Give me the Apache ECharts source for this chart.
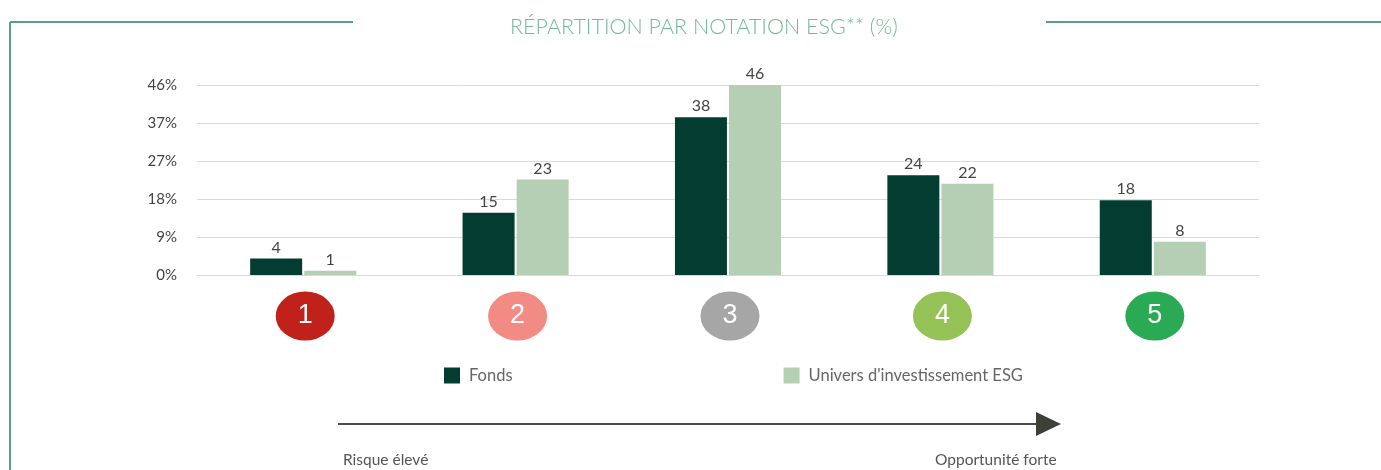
<!DOCTYPE html>
<html><head><meta charset="utf-8">
<script src="https://cdn.jsdelivr.net/npm/echarts@6/dist/echarts.min.js"></script>
<style>html,body{margin:0;padding:0;background:#fff}#c{width:1381px;height:470px}</style>
</head><body><div id="c"></div>
<script>
const categories = ['1', '2', '3', '4', '5'];
const ratingColors = ['#c0221b', '#f28b84', '#a6a6a6', '#94c257', '#2aaa55'];
const fonds = [4, 15, 38, 24, 18];
const univers = [1, 23, 46, 22, 8];
const seriesNames = ['Fonds', "Univers d'investissement ESG"];
const yMax = 45.75, yStep = 9.15;

const font = 'Lato, "Open Sans", sans-serif';
const chart = echarts.init(document.getElementById('c'));
chart.setOption({
  animation: false,
  textStyle: { fontFamily: font },
  title: {
    text: 'RÉPARTITION PAR NOTATION ESG** (%)',
    left: 505, top: 11,
    textStyle: { fontFamily: font, fontWeight: 300, fontSize: 21.5, color: '#74b99a' }
  },
  legend: {
    data: seriesNames, left: 444, top: 367, padding: 0, itemWidth: 16, itemHeight: 16, itemGap: 271,
    icon: 'rect',
    textStyle: { fontFamily: font, fontSize: 16.5, color: '#666', padding: [0, 0, 0, 4] }
  },
  grid: [
    { left: 197, right: 122, top: 85, height: 190 },
    { left: 197, right: 122, top: 292, height: 48 }
  ],
  xAxis: [
    { type: 'category', gridIndex: 0, data: categories, axisLabel: { show: false },
      axisTick: { show: false }, axisLine: { lineStyle: { color: '#d9d9d9' } } },
    { type: 'category', gridIndex: 1, data: categories, show: false }
  ],
  yAxis: [
    { type: 'value', gridIndex: 0, min: 0, max: yMax, interval: yStep,
      axisLine: { show: false }, axisTick: { show: false },
      axisLabel: { formatter: v => Math.round(v) + '%', color: '#444', fontSize: 15, margin: 20 },
      splitLine: { lineStyle: { color: '#d9d9d9', width: 1 } } },
    { type: 'value', gridIndex: 1, min: -1, max: 1, show: false }
  ],
  series: [
    { name: seriesNames[0], type: 'bar', data: fonds, barWidth: 52, barGap: '4%',
      itemStyle: { color: '#033d31' },
      label: { show: true, position: 'top', color: '#444', fontSize: 16, distance: 3 } },
    { name: seriesNames[1], type: 'bar', data: univers, barWidth: 52,
      itemStyle: { color: '#b4cfb4' },
      label: { show: true, position: 'top', color: '#444', fontSize: 16, distance: 3 } },
    { type: 'scatter', xAxisIndex: 1, yAxisIndex: 1, symbol: 'circle', symbolSize: [59, 49],
      symbolOffset: [2, 0],
      data: categories.map((c, i) => ({ value: 0, itemStyle: { color: ratingColors[i], opacity: 1 } })),
      itemStyle: { opacity: 1 },
      label: { show: true, position: 'inside', formatter: p => categories[p.dataIndex],
        color: '#fff', fontSize: 27, fontFamily: 'Arial, "Liberation Sans", sans-serif' },
      silent: true }
  ],
  graphic: [
    { type: 'line', shape: { x1: 10, y1: 22, x2: 353, y2: 22 }, style: { stroke: '#5a9e84', lineWidth: 2 } },
    { type: 'line', shape: { x1: 1046, y1: 22, x2: 1381, y2: 22 }, style: { stroke: '#5a9e84', lineWidth: 2 } },
    { type: 'line', shape: { x1: 10, y1: 22, x2: 10, y2: 470 }, style: { stroke: '#5a9e84', lineWidth: 2 } },
    { type: 'line', shape: { x1: 338, y1: 424, x2: 1040, y2: 424 }, style: { stroke: '#4a4d47', lineWidth: 2 } },
    { type: 'polygon', shape: { points: [[1036, 412], [1061, 424], [1036, 436]] }, style: { fill: '#3d4039' } },
    { type: 'text', left: 343, top: 452, style: { text: 'Risque élevé', font: '15.5px ' + font, fill: '#555' } },
    { type: 'text', left: 935, top: 452, style: { text: 'Opportunité forte', font: '15.5px ' + font, fill: '#555' } }
  ]
});
</script></body></html>
